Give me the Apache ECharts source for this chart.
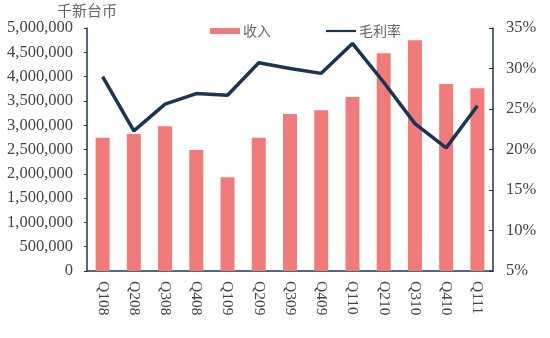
<!DOCTYPE html>
<html><head><meta charset="utf-8">
<script src="https://cdn.jsdelivr.net/npm/echarts@6/dist/echarts.min.js"></script>
<style>html,body{margin:0;padding:0;background:#fff}#c{width:550px;height:338px}</style>
</head><body><div id="c"></div>
<script>
const categories = ['Q108','Q208','Q308','Q408','Q109','Q209','Q309','Q409','Q110','Q210','Q310','Q410','Q111'];
const revenue = [2740000,2820000,2980000,2490000,1930000,2740000,3230000,3310000,3580000,4480000,4750000,3850000,3760000];
const grossMargin = [29.0,22.3,25.6,26.9,26.7,30.7,30.0,29.4,33.1,28.3,23.2,20.2,25.4];
const leftTicks = {min:0,max:5000000,interval:500000};
const rightTicks = {min:5,max:35,interval:5};

const chart = echarts.init(document.getElementById('c'));
const axisColor = '#1f3447';
const serif = '"Liberation Serif","DejaVu Serif",serif';
const cjk = '"Noto Sans CJK SC",sans-serif';
chart.setOption({
  animation:false,
  textStyle:{fontFamily:serif},
  grid:{left:87,right:57,top:28,bottom:67},
  legend:[{
    top:19,left:205,itemWidth:30,itemHeight:6,itemGap:4,
    textStyle:{fontFamily:cjk,fontSize:14,color:'#666',padding:[0,0,0,-2]},
    data:[{name:'收入',icon:'rect'}]
  },{
    top:19,left:321,itemWidth:30,itemHeight:6,
    textStyle:{fontFamily:cjk,fontSize:14,color:'#666',padding:[0,0,0,-2]},
    data:[{name:'毛利率',icon:'path://M0,0H30V2.2H0Z'}]
  }],
  xAxis:{
    type:'category',data:categories,
    axisLine:{lineStyle:{color:axisColor,width:1.5}},
    axisTick:{show:false},
    axisLabel:{rotate:-90,color:'#444',fontSize:15.5,fontFamily:serif,margin:10}
  },
  yAxis:[{
    type:'value',min:leftTicks.min,max:leftTicks.max,interval:leftTicks.interval,
    name:'千新台币',nameLocation:'end',nameGap:10,
    nameTextStyle:{fontFamily:cjk,fontSize:15,color:'#666',align:'center',padding:[0,0,0,0]},
    axisLine:{show:true,lineStyle:{color:axisColor,width:1.5}},
    axisTick:{show:true,length:3,lineStyle:{color:axisColor}},
    splitLine:{show:false},
    axisLabel:{color:'#444',fontSize:16.5,margin:14,fontFamily:serif,
      formatter:v=>v.toLocaleString('en-US')}
  },{
    type:'value',min:rightTicks.min,max:rightTicks.max,interval:rightTicks.interval,position:'right',
    axisLine:{show:true,lineStyle:{color:axisColor,width:1.5}},
    axisTick:{show:true,inside:true,length:4,lineStyle:{color:axisColor}},
    splitLine:{show:false},
    axisLabel:{color:'#444',fontSize:16.5,margin:13,fontFamily:serif,formatter:'{value}%'}
  }],
  series:[{
    name:'收入',type:'bar',data:revenue,barWidth:14,
    itemStyle:{color:'#ef7b7b'}
  },{
    name:'毛利率',type:'line',yAxisIndex:1,data:grossMargin,
    symbol:'none',lineStyle:{color:'#1b3550',width:3.5},itemStyle:{color:'#1b3550'}
  }]
});
</script></body></html>
